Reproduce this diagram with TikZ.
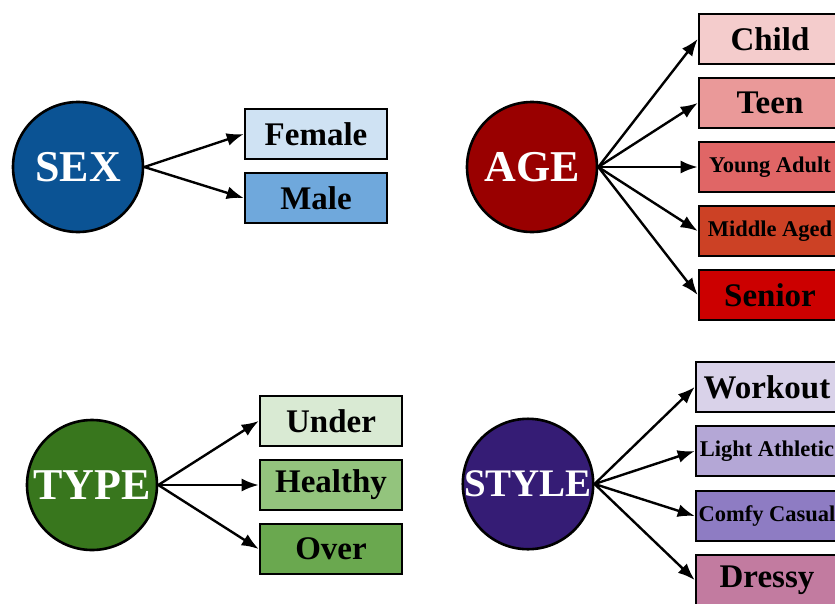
\documentclass[tikz,border=0pt]{standalone}
\usepackage{fontspec}
\setmainfont{Liberation Serif}
\usetikzlibrary{arrows.meta}

% Google-style palette
\definecolor{sexc}{HTML}{0B5394}
\definecolor{femc}{HTML}{CFE2F3}
\definecolor{malc}{HTML}{6FA8DC}
\definecolor{agec}{HTML}{990000}
\definecolor{chic}{HTML}{F4CCCC}
\definecolor{teec}{HTML}{EA9999}
\definecolor{youc}{HTML}{E06666}
\definecolor{midc}{HTML}{CC4125}
\definecolor{senc}{HTML}{CC0000}
\definecolor{typc}{HTML}{38761D}
\definecolor{undc}{HTML}{D9EAD3}
\definecolor{heac}{HTML}{93C47D}
\definecolor{ovec}{HTML}{6AA84F}
\definecolor{styc}{HTML}{351C75}
\definecolor{work}{HTML}{D9D2E9}
\definecolor{ligc}{HTML}{B4A7D6}
\definecolor{comc}{HTML}{8E7CC3}
\definecolor{drec}{HTML}{C27BA0}

\tikzset{
  hub/.style={circle, draw=black, line width=2.6pt, minimum size=130pt, inner sep=0pt,
              text=white, font=\fontsize{44}{44}\selectfont\bfseries},
  leaf/.style={rectangle, draw=black, line width=2.6pt, minimum width=142pt, minimum height=50pt,
               inner sep=0pt, text=black, font=\fontsize{33}{33}\selectfont\bfseries},
  smallleaf/.style={leaf, font=\fontsize{22.5}{22.5}\selectfont\bfseries},
  link/.style={line width=2.4pt, -{Latex[length=17pt,width=13pt]}}
}

\begin{document}
\begin{tikzpicture}[x=1pt,y=-1pt]
\useasboundingbox (0,0) rectangle (835,603);

% SEX
\node[hub, fill=sexc] (sex) at (78,167) {SEX};
\node[leaf, fill=femc] (female) at (316,134) {Female};
\node[leaf, fill=malc] (male) at (316,198) {Male};
\draw[link] (sex.east) -- (female.west);
\draw[link] (sex.east) -- (male.west);

% AGE
\node[hub, fill=agec] (age) at (532,167) {AGE};
\node[leaf, fill=chic] (child) at (770,39) {Child};
\node[leaf, fill=teec] (teen) at (770,103) {Teen};
\node[smallleaf, fill=youc] (young) at (770,167) {Young Adult};
\node[smallleaf, fill=midc] (middle) at (770,231) {Middle Aged};
\node[leaf, fill=senc] (senior) at (770,295) {Senior};
\foreach \t in {child,teen,young,middle,senior}
  \draw[link] (age.east) -- (\t.west);

% TYPE
\node[hub, fill=typc] (type) at (92,485) {TYPE};
\node[leaf, fill=undc] (under) at (331,421) {Under};
\node[leaf, fill=heac] (healthy) at (331,485) {Healthy};
\node[leaf, fill=ovec] (over) at (331,549) {Over};
\foreach \t in {under,healthy,over}
  \draw[link] (type.east) -- (\t.west);

% STYLE
\node[hub, fill=styc, font=\fontsize{39}{39}\selectfont\bfseries] (style) at (528,484) {STYLE};
\node[leaf, fill=work] (workout) at (767,387) {Workout};
\node[smallleaf, fill=ligc] (light) at (767,451) {Light Athletic};
\node[smallleaf, fill=comc] (comfy) at (767,516) {Comfy Casual};
\node[leaf, fill=drec] (dressy) at (767,580) {Dressy};
\foreach \t in {workout,light,comfy,dressy}
  \draw[link] (style.east) -- (\t.west);
\end{tikzpicture}
\end{document}
